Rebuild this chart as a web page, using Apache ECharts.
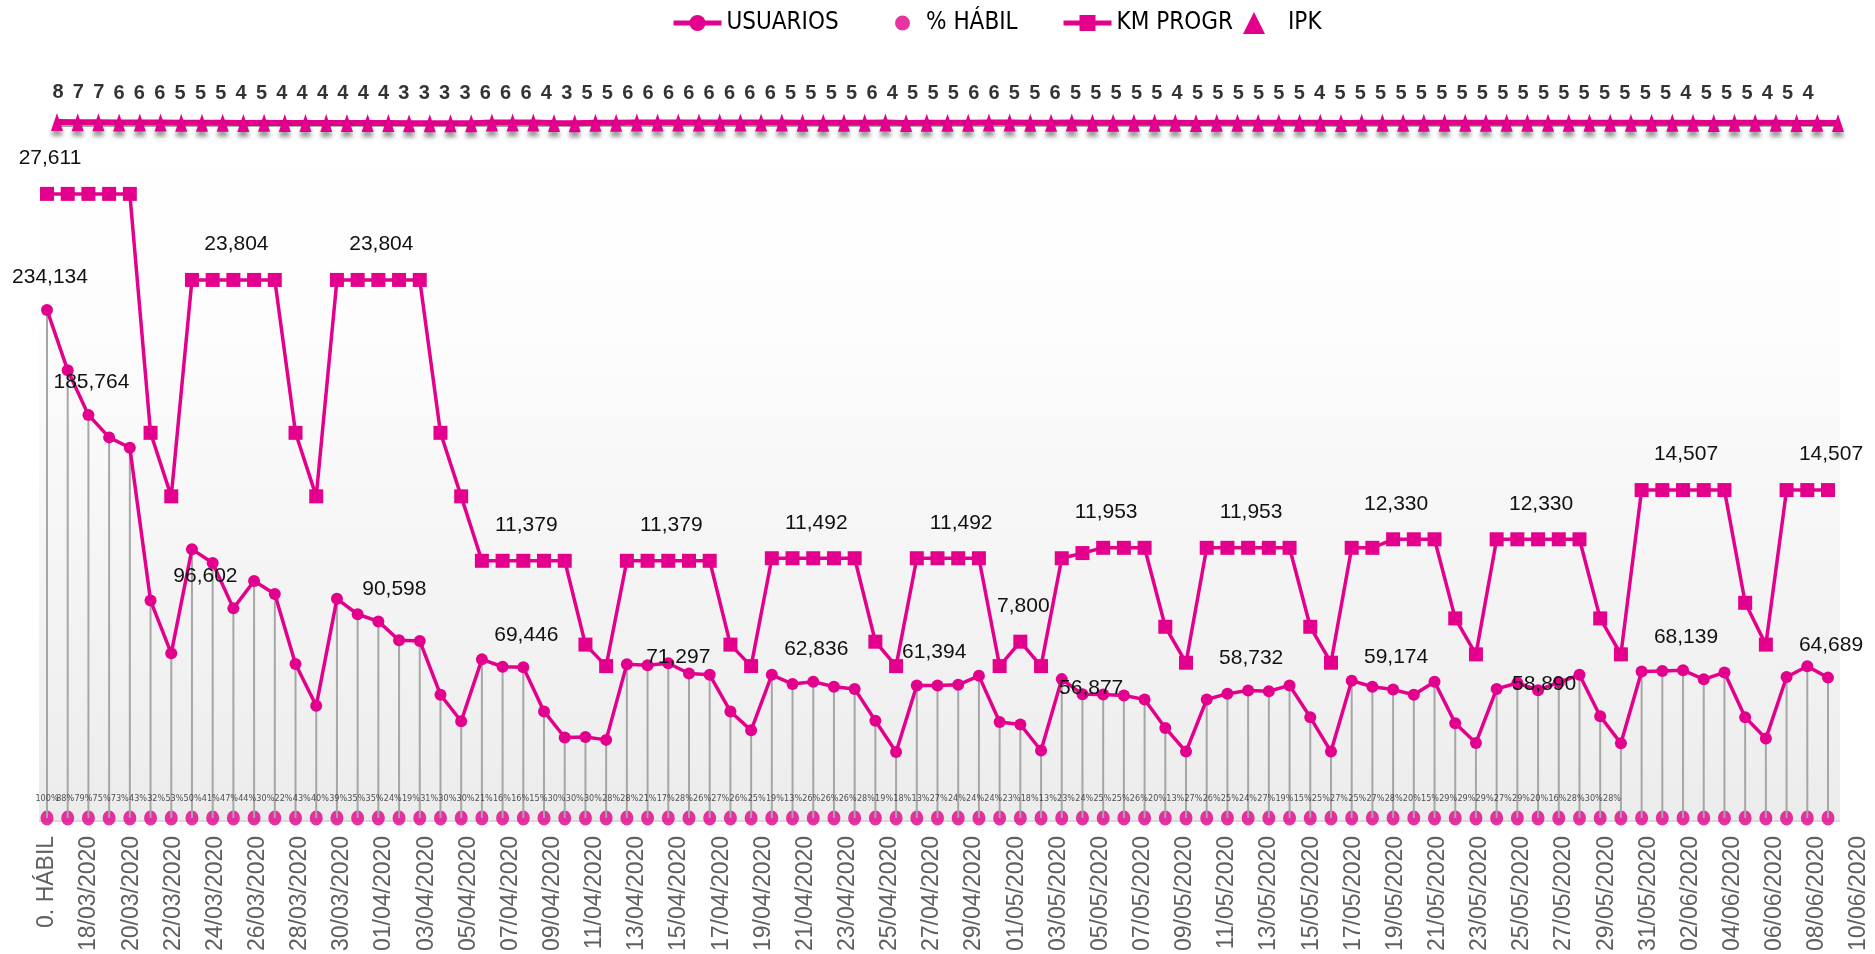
<!DOCTYPE html>
<html>
<head>
<meta charset="utf-8">
<script src="https://cdn.jsdelivr.net/npm/echarts@6/dist/echarts.min.js"></script>
<style>
  html, body { margin: 0; padding: 0; background: #ffffff; }
  #chart { width: 1875px; height: 954px; }
</style>
</head>
<body>
<div id="chart"></div>
<script>
// ---- data -------------------------------------------------------------
const categories = [
  '0. HÁBIL',
  '17/03/2020','18/03/2020','19/03/2020','20/03/2020','21/03/2020','22/03/2020','23/03/2020',
  '24/03/2020','25/03/2020','26/03/2020','27/03/2020','28/03/2020','29/03/2020','30/03/2020','31/03/2020',
  '01/04/2020','02/04/2020','03/04/2020','04/04/2020','05/04/2020','06/04/2020','07/04/2020','08/04/2020',
  '09/04/2020','10/04/2020','11/04/2020','12/04/2020','13/04/2020','14/04/2020','15/04/2020','16/04/2020',
  '17/04/2020','18/04/2020','19/04/2020','20/04/2020','21/04/2020','22/04/2020','23/04/2020','24/04/2020',
  '25/04/2020','26/04/2020','27/04/2020','28/04/2020','29/04/2020','30/04/2020',
  '01/05/2020','02/05/2020','03/05/2020','04/05/2020','05/05/2020','06/05/2020','07/05/2020','08/05/2020',
  '09/05/2020','10/05/2020','11/05/2020','12/05/2020','13/05/2020','14/05/2020','15/05/2020','16/05/2020',
  '17/05/2020','18/05/2020','19/05/2020','20/05/2020','21/05/2020','22/05/2020','23/05/2020','24/05/2020',
  '25/05/2020','26/05/2020','27/05/2020','28/05/2020','29/05/2020','30/05/2020','31/05/2020',
  '01/06/2020','02/06/2020','03/06/2020','04/06/2020','05/06/2020','06/06/2020','07/06/2020','08/06/2020',
  '09/06/2020','10/06/2020'
];

const usuarios = [
  234134,206300,185764,175400,170600,100200,75900,123900,117500,96602,
  109200,103200,71000,51700,101000,93900,90598,81900,81600,56800,
  44600,73100,69700,69446,49100,37100,37300,36000,70900,70400,
  71297,66600,66000,49100,40400,66000,61700,62836,60500,59500,
  44800,30400,61100,61100,61394,65500,44200,43100,31100,64000,
  57000,56877,56500,54600,41500,30600,54600,57300,58732,58400,
  61100,46400,30600,63300,60500,59174,56800,62800,43700,34600,
  59500,62200,58890,62500,66000,46900,34400,67500,67700,68139,
  63900,67100,46400,36600,65000,69900,64689
];

const pctHabil = [
  1.00,0.88,0.79,0.75,0.73,0.43,0.32,0.53,0.50,0.41,
  0.47,0.44,0.30,0.22,0.43,0.40,0.39,0.35,0.35,0.24,
  0.19,0.31,0.30,0.30,0.21,0.16,0.16,0.15,0.30,0.30,
  0.30,0.28,0.28,0.21,0.17,0.28,0.26,0.27,0.26,0.25,
  0.19,0.13,0.26,0.26,0.26,0.28,0.19,0.18,0.13,0.27,
  0.24,0.24,0.24,0.23,0.18,0.13,0.23,0.24,0.25,0.25,
  0.26,0.20,0.13,0.27,0.26,0.25,0.24,0.27,0.19,0.15,
  0.25,0.27,0.25,0.27,0.28,0.20,0.15,0.29,0.29,0.29,
  0.27,0.29,0.20,0.16,0.28,0.30,0.28
];

const kmProgr = [
  27611,27611,27611,27611,27611,17040,14230,
  23804,23804,23804,23804,23804,17040,14230,
  23804,23804,23804,23804,23804,17040,14230,
  11379,11379,11379,11379,11379,7670,6720,
  11379,11379,11379,11379,11379,7670,6720,
  11492,11492,11492,11492,11492,7800,6720,
  11492,11492,11492,11492,6720,7800,6720,
  11492,11720,11953,11953,11953,8460,6870,
  11953,11953,11953,11953,11953,8460,6870,
  11953,11953,12330,12330,12330,8830,7240,
  12330,12330,12330,12330,12330,8830,7240,
  14507,14507,14507,14507,14507,9520,7670,
  14507,14507,14507
];

const ipk = [
  8,7,7,6,6,6,5,5,5,4,5,4,4,4,4,4,4,3,3,3,3,6,6,6,4,3,5,5,6,
  6,6,6,6,6,6,6,5,5,5,5,6,4,5,5,5,6,6,5,5,6,
  5,5,5,5,5,4,5,5,5,5,5,5,4,
  5,5,5,5,5,5,5,5,5,5,5,5,5,5,5,5,5,
  4,5,5,5,4,5,4
];

// points that carry a value label
const usuariosLabelAt = [0,2,9,16,23,30,37,44,51,58,65,72,79,86];
const kmLabelAt = [0,9,16,23,30,37,44,47,51,58,65,72,79,86];

// ---- styling -----------------------------------------------------------
const PINK = '#e2008c';
const NARROW = "'DejaVu Sans Condensed','Liberation Sans',sans-serif";
const SANS = "'Liberation Sans',Arial,sans-serif";
// label placement tweaks for a few USUARIOS points
const usuariosLabelStyle = {
  9:  { offset: [-28, 0] },
  16: { offset: [16, 0] },
  30: { distance: -10, offset: [10, 0] },
  44: { offset: [-24, 0] },
  51: { distance: -10, offset: [-12, 0] },
  72: { distance: -10, offset: [6, 0] }
};

const fmt = v => Number(v).toLocaleString('en-US');

const usuariosData = usuarios.map((v, i) => usuariosLabelAt.includes(i)
  ? { value: v, label: Object.assign({ show: true, offset: [3, 0] }, usuariosLabelStyle[i] || {}) }
  : v);
const kmData = kmProgr.map((v, i) => kmLabelAt.includes(i)
  ? { value: v, label: { show: true, offset: [3, 0] } }
  : v);

const valueLabel = {
  show: false, position: 'top', distance: 16,
  fontFamily: SANS, fontSize: 21, color: '#111',
  formatter: p => fmt(p.value)
};

const hiddenCat = (gridIndex) => ({
  type: 'category', gridIndex, data: categories, boundaryGap: false, show: false
});

const legendText = { fontFamily: NARROW, fontSize: 24, color: '#000' };

const chart = echarts.init(document.getElementById('chart'), null, { renderer: 'canvas' });

chart.setOption({
  animation: false,
  backgroundColor: '#ffffff',
  graphic: [
    { type: 'rect', z: -10, silent: true,
      shape: { x: 39, y: 150, width: 1801, height: 671 },
      style: { fill: new echarts.graphic.LinearGradient(0, 0, 0, 1, [
        { offset: 0, color: '#ffffff' },
        { offset: 0.25, color: '#fdfdfd' },
        { offset: 1, color: '#ececec' }
      ]) } },
    { type: 'line', z: -5, silent: true,
      shape: { x1: 39, y1: 821, x2: 1840, y2: 821 },
      style: { stroke: '#d9d9d9', lineWidth: 2 } }
  ],
  legend: [
    { left: 666, top: 6, itemWidth: 48, itemHeight: 20, itemGap: 0,
      lineStyle: { width: 5 },
      data: [{ name: 'USUARIOS' }], textStyle: legendText },
    { left: 890, top: 6, itemWidth: 15, itemHeight: 20, itemGap: 0,
      data: [{ name: '% HÁBIL', icon: 'circle' }],
      textStyle: Object.assign({}, legendText, { padding: [0, 0, 0, 11] }) },
    { left: 1056, top: 6, itemWidth: 48, itemHeight: 20, itemGap: 0,
      lineStyle: { width: 5 },
      data: [{ name: 'KM PROGR' }], textStyle: legendText },
    { left: 1238, top: 6, itemWidth: 22, itemHeight: 22, itemGap: 0,
      data: [{ name: 'IPK', icon: 'triangle' }],
      textStyle: Object.assign({}, legendText, { padding: [0, 0, 0, 18] }) }
  ],
  grid: [
    { left: 47, right: 47, top: 167, bottom: 136 },          // main plot
    { left: 57, width: 1781, top: 122, height: 2 },          // IPK band
    { left: 58, width: 1750, top: 122, height: 2 },          // IPK values
    { left: 47, width: 1812, top: 167, bottom: 134 },        // date axis
    { left: 47, width: 1565, top: 167, bottom: 136 }         // % values
  ],
  xAxis: [
    hiddenCat(0),
    hiddenCat(1),
    hiddenCat(2),
    { type: 'category', gridIndex: 3, data: categories, boundaryGap: false,
      axisLine: { show: false }, axisTick: { show: false },
      axisLabel: { interval: 1, rotate: 90, margin: 16, fontFamily: SANS,
                   fontSize: 23, color: '#5f5f5f' } },
    hiddenCat(4)
  ],
  yAxis: [
    { type: 'value', gridIndex: 0, min: 0, max: 300000, show: false },
    { type: 'value', gridIndex: 0, min: 0, max: 28800, show: false },
    { type: 'value', gridIndex: 1, min: 0, max: 8, show: false },
    { type: 'value', gridIndex: 2, min: 0, max: 8, show: false },
    { type: 'value', gridIndex: 3, min: 0, max: 1, show: false },
    { type: 'value', gridIndex: 4, min: 0, max: 300000, show: false }
  ],
  series: [
    { name: '% HÁBIL', type: 'scatter', xAxisIndex: 0, yAxisIndex: 0, z: 2,
      data: pctHabil, symbol: 'circle', symbolSize: [13, 15],
      itemStyle: { color: PINK } },
    { name: 'drop', type: 'bar', xAxisIndex: 0, yAxisIndex: 0, z: 3, silent: true,
      data: usuarios, barWidth: 2, itemStyle: { color: '#a6a6a6' } },
    { name: 'USUARIOS', type: 'line', xAxisIndex: 0, yAxisIndex: 0, z: 5,
      data: usuariosData, symbol: 'circle', symbolSize: 12, showAllSymbol: true,
      lineStyle: { color: PINK, width: 3.5 }, itemStyle: { color: PINK },
      label: valueLabel },
    { name: 'KM PROGR', type: 'line', xAxisIndex: 0, yAxisIndex: 1, z: 6,
      data: kmData, symbol: 'rect', symbolSize: 14, showAllSymbol: true,
      lineStyle: { color: PINK, width: 3.5 }, itemStyle: { color: PINK },
      label: Object.assign({}, valueLabel, { distance: 18 }) },
    { name: 'IPK', type: 'line', xAxisIndex: 1, yAxisIndex: 2, z: 4,
      data: ipk, symbol: 'triangle', symbolSize: [12, 18], showAllSymbol: true,
      lineStyle: { color: PINK, width: 6, shadowColor: 'rgba(0,0,0,0.55)', shadowBlur: 5, shadowOffsetY: 6 },
      itemStyle: { color: PINK, shadowColor: 'rgba(0,0,0,0.4)', shadowBlur: 4, shadowOffsetY: 5 } },
    { name: 'ipkText', type: 'scatter', xAxisIndex: 2, yAxisIndex: 3, z: 7, silent: true,
      data: ipk, symbolSize: 1, itemStyle: { color: 'rgba(0,0,0,0)' },
      label: { show: true, position: 'top', distance: 19, fontFamily: SANS,
               fontWeight: 'bold', fontSize: 20, color: '#000' } },
    { name: 'pctText', type: 'scatter', xAxisIndex: 4, yAxisIndex: 5, z: 7, silent: true,
      data: pctHabil, symbolSize: 1, itemStyle: { color: 'rgba(0,0,0,0)' },
      label: { show: true, position: 'top', distance: 14, fontFamily: NARROW,
               fontSize: 9, color: '#262626',
               formatter: p => Math.round(p.value * 100) + '%' } }
  ]
});
</script>
</body>
</html>
